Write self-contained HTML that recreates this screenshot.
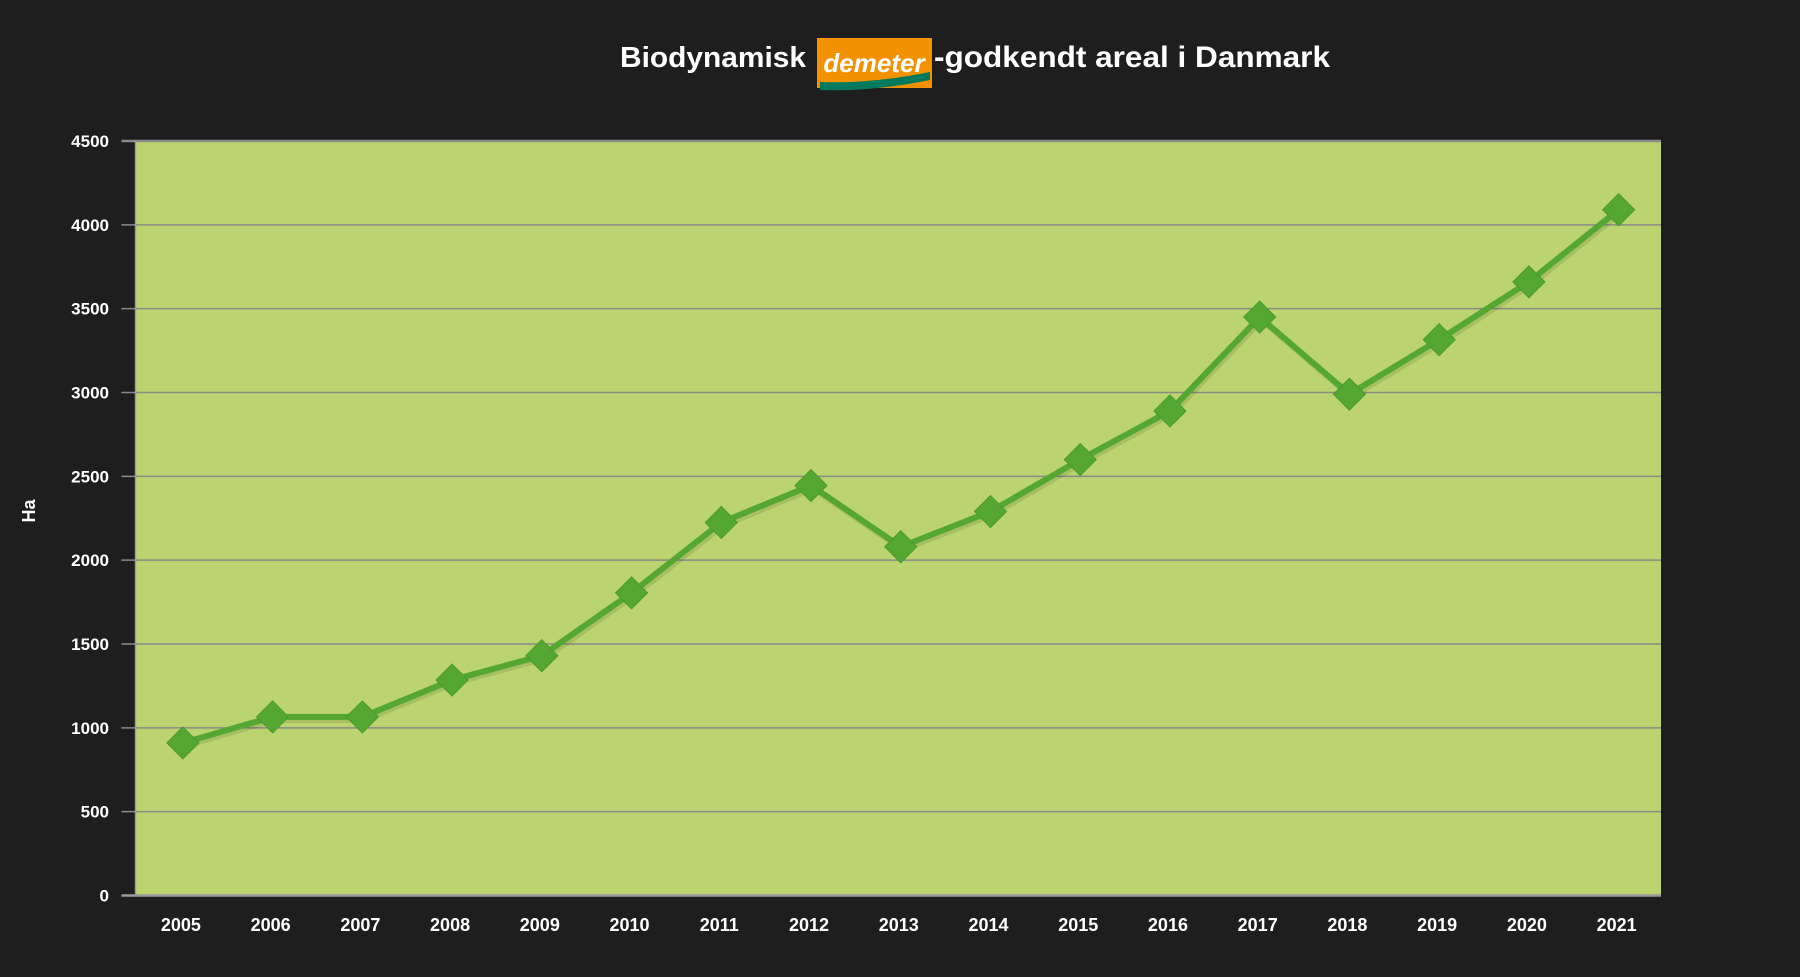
<!DOCTYPE html>
<html><head><meta charset="utf-8"><style>
html,body{margin:0;padding:0;background:#1e1e1e;}
svg{display:block}
text{font-family:"Liberation Sans",sans-serif;font-weight:bold;fill:#fff}
</style></head><body>
<svg id="chart" width="1800" height="977" viewBox="0 0 1800 977">
<rect width="1800" height="977" fill="#1e1e1e"/>
<g>
<text x="806" y="67" font-size="29" text-anchor="end" textLength="186" lengthAdjust="spacingAndGlyphs">Biodynamisk</text>
<g>
<rect x="817" y="38" width="115" height="50" fill="#f39200"/>
<path d="M820 82 Q870 84 930 72 L930 80 Q870 92 820 90 Z" fill="#007a5e"/>
<text x="874" y="72" font-size="26" font-style="italic" text-anchor="middle">demeter</text>
</g>
<text x="934" y="67" font-size="30" textLength="396" lengthAdjust="spacingAndGlyphs">-godkendt areal i Danmark</text>
</g>
<rect x="135.5" y="141" width="1525.5" height="754.5" fill="#bcd46f"/>
<g id="grid"></g><g id="yt"></g><g id="xt"></g><g id="series"></g>
<text transform="translate(35,511) rotate(-90)" font-size="18" text-anchor="middle">Ha</text>
</svg>
<script>
const years=["2005","2006","2007","2008","2009","2010","2011","2012","2013","2014","2015","2016","2017","2018","2019","2020","2021"];
const values=[910,1065,1065,1285,1430,1805,2225,2445,2080,2290,2600,2890,3450,2990,3315,3660,4090];
const yTicks=[0,500,1000,1500,2000,2500,3000,3500,4000,4500];
const L=135.5,R=1661,T=141,B=895.5,yMax=4500;
const NS="http://www.w3.org/2000/svg";
const bw=(R-L)/years.length;
function xs(i){return L+2.5+bw*(i+0.5);}
function ys(v){return B-(v/yMax)*(B-T);}
function mk(t,a,p){const e=document.createElementNS(NS,t);for(const k in a)e.setAttribute(k,a[k]);p.appendChild(e);return e;}
const grid=document.getElementById('grid'),yt=document.getElementById('yt'),xt=document.getElementById('xt'),se=document.getElementById('series');
yTicks.forEach(v=>{const y=ys(v);
const l=mk('line',{x1:L-14,x2:R,y1:y,y2:y,stroke:v===0?'#9a9a9a':'#8a8a8a','stroke-width':v===0||v===4500?2.5:1.5},grid);


const t=mk('text',{x:109,y:y+6,'font-size':17,'text-anchor':'end'},yt);t.textContent=v;


});
mk('line',{x1:L,x2:L,y1:T,y2:B,stroke:'#9a9a9a','stroke-width':1.5},grid);
years.forEach((yr,i)=>{const t=mk('text',{x:xs(i)-2,y:931,'font-size':18,'text-anchor':'middle'},xt);t.textContent=yr;


});
const pts=values.map((v,i)=>xs(i)+','+ys(v)).join(' ');
mk('polyline',{points:pts,fill:'none',stroke:'rgba(0,0,0,0.10)','stroke-width':6,transform:'translate(2,3)','stroke-linejoin':'round'},se);
const line=mk('polyline',{points:pts,fill:'none',stroke:'#54a832','stroke-width':6,'stroke-linejoin':'round'},se);


values.forEach((v,i)=>{const x=xs(i),y=ys(v),r=16;
const d=mk('polygon',{points:`${x},${y-r} ${x+r},${y} ${x},${y+r} ${x-r},${y}`,fill:'#54a832',stroke:'#4a9a2b','stroke-width':1},se);


});
</script>
</body></html>
